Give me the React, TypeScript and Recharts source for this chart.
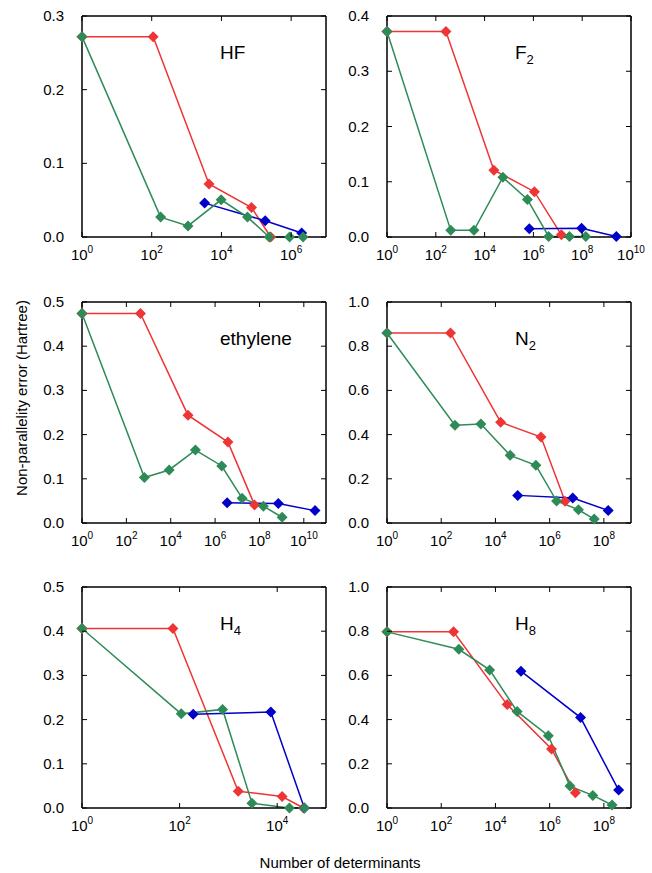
import { LineChart, Line, XAxis, YAxis } from "recharts";

type Pt = [number, number];

const RED = "#ee3535";
const GREEN = "#2e8b57";
const BLUE = "#0000c8";
const FONT = "'Liberation Sans', Arial, sans-serif";

// HF
const hfRed: Pt[] = [[1, 0.272], [110, 0.272], [4400, 0.072], [73000, 0.04], [260000, 0.0]];
const hfBlue: Pt[] = [[3300, 0.046], [180000, 0.022], [2000000, 0.0055]];
const hfGreen: Pt[] = [[1, 0.272], [180, 0.027], [1100, 0.015], [9800, 0.0505], [56000, 0.027], [235000, 0.0], [900000, 0.0], [2200000, 0.0]];

// F2
const f2Red: Pt[] = [[1, 0.372], [260, 0.372], [24000, 0.121], [1100000, 0.082], [14000000, 0.004]];
const f2Blue: Pt[] = [[680000, 0.015], [94000000, 0.016], [2500000000, 0.001]];
const f2Green: Pt[] = [[1, 0.372], [410, 0.012], [3650, 0.012], [56000, 0.108], [570000, 0.068], [4200000, 0.001], [30000000, 0.001], [140000000, 0.001]];

// ethylene
const ethRed: Pt[] = [[1, 0.474], [430, 0.474], [60000, 0.244], [3800000, 0.183], [60000000, 0.041]];
const ethBlue: Pt[] = [[3500000, 0.046], [710000000, 0.044], [32000000000, 0.028]];
const ethGreen: Pt[] = [[1, 0.474], [650, 0.103], [8500, 0.12], [130000, 0.165], [2000000, 0.129], [16500000, 0.056], [150000000, 0.038], [1050000000, 0.013]];

// N2
const n2Red: Pt[] = [[1, 0.86], [220, 0.86], [15500, 0.456], [480000, 0.389], [3700000, 0.098]];
const n2Blue: Pt[] = [[66000, 0.125], [7100000, 0.113], [144000000, 0.057]];
const n2Green: Pt[] = [[1, 0.86], [320, 0.442], [2900, 0.448], [35000, 0.306], [310000, 0.261], [1800000, 0.0995], [11500000, 0.06], [44000000, 0.018]];

// H4
const h4Red: Pt[] = [[1, 0.406], [73, 0.406], [1590, 0.038], [12600, 0.026], [34600, 0.0]];
const h4Blue: Pt[] = [[190, 0.212], [7400, 0.217], [36000, 0.0]];
const h4Green: Pt[] = [[1, 0.406], [108, 0.213], [760, 0.223], [3040, 0.011], [17800, 0.0], [36000, 0.0]];

// H8
const h8Red: Pt[] = [[1, 0.797], [285, 0.797], [27000, 0.468], [1170000, 0.267], [8900000, 0.069]];
const h8Blue: Pt[] = [[87000, 0.619], [13800000, 0.409], [350000000, 0.081]];
const h8Green: Pt[] = [[1, 0.797], [445, 0.718], [6100, 0.625], [63000, 0.437], [890000, 0.327], [5600000, 0.099], [39000000, 0.057], [200000000, 0.0135]];

const ticksTo = (maxExp: number) => {
  const t: number[] = [];
  for (let e = 0; e <= maxExp; e += 2) t.push(Math.pow(10, e));
  return t;
};

const panels = [
  { name: "HF", sub: "", left: 82, top: 16, xMax: 1e7, xTicks: ticksTo(6), yMax: 0.3, yTicks: [0, 0.1, 0.2, 0.3], red: hfRed, blue: hfBlue, green: hfGreen },
  { name: "F", sub: "2", left: 387, top: 16, xMax: 1e10, xTicks: ticksTo(10), yMax: 0.4, yTicks: [0, 0.1, 0.2, 0.3, 0.4], red: f2Red, blue: f2Blue, green: f2Green },
  { name: "ethylene", sub: "", left: 82, top: 302, xMax: 1e11, xTicks: ticksTo(10), yMax: 0.5, yTicks: [0, 0.1, 0.2, 0.3, 0.4, 0.5], red: ethRed, blue: ethBlue, green: ethGreen },
  { name: "N", sub: "2", left: 387, top: 302, xMax: 1e9, xTicks: ticksTo(8), yMax: 1.0, yTicks: [0, 0.2, 0.4, 0.6, 0.8, 1.0], red: n2Red, blue: n2Blue, green: n2Green },
  { name: "H", sub: "4", left: 82, top: 587, xMax: 1e5, xTicks: ticksTo(4), yMax: 0.5, yTicks: [0, 0.1, 0.2, 0.3, 0.4, 0.5], red: h4Red, blue: h4Blue, green: h4Green },
  { name: "H", sub: "8", left: 387, top: 587, xMax: 1e9, xTicks: ticksTo(8), yMax: 1.0, yTicks: [0, 0.2, 0.4, 0.6, 0.8, 1.0], red: h8Red, blue: h8Blue, green: h8Green },
];

const PW = 244;
const PH = 221;
const ML = 60;
const MT = 10;
const MR = 20;
const MB = 30;

const toRows = (pts: Pt[]) => pts.map(([x, y]) => ({ x, y }));

const Diamond = (color: string) => (props: any) => {
  const { cx, cy, index } = props;
  if (cx == null || cy == null) return <g key={`e-${index}`} />;
  const r = 5.5;
  return (
    <path
      key={`d-${index}`}
      d={`M${cx},${cy - r}L${cx + r},${cy}L${cx},${cy + r}L${cx - r},${cy}Z`}
      fill={color}
      stroke="none"
    />
  );
};

const XTick = (props: any) => {
  const { x, y, payload } = props;
  const exp = Math.round(Math.log10(payload.value));
  return (
    <g>
      <line x1={x} y1={y} x2={x} y2={y - 5} stroke="#000" />
      <text x={x} y={y + 23} textAnchor="middle" fontSize={15} fill="#000" fontFamily={FONT}>
        10<tspan dy={-7} fontSize={10}>{exp}</tspan>
      </text>
    </g>
  );
};

const TopTick = (props: any) => {
  const { x, y } = props;
  return <line x1={x} y1={y} x2={x} y2={y + 5} stroke="#000" />;
};

const YTick = (props: any) => {
  const { x, y, payload } = props;
  return (
    <g>
      <line x1={x} y1={y} x2={x + 5} y2={y} stroke="#000" />
      <text x={x - 18} y={y + 5} textAnchor="end" fontSize={15} fill="#000" fontFamily={FONT}>
        {Number(payload.value).toFixed(1)}
      </text>
    </g>
  );
};

const RightTick = (props: any) => {
  const { x, y } = props;
  return <line x1={x} y1={y} x2={x - 5} y2={y} stroke="#000" />;
};

const frame = { stroke: "#000", strokeWidth: 1.5 };

const Panel = ({ p }: { p: (typeof panels)[number] }) => {
  const series = [
    { key: "red", color: RED, pts: p.red },
    { key: "blue", color: BLUE, pts: p.blue },
    { key: "green", color: GREEN, pts: p.green },
  ];
  return (
    <div style={{ position: "absolute", left: p.left - ML, top: p.top - MT }}>
      <LineChart
        width={ML + PW + MR}
        height={MT + PH + MB}
        margin={{ top: MT - 1, right: MR - 1, bottom: 0, left: 0 }}
      >
        <XAxis
          xAxisId="b"
          dataKey="x"
          type="number"
          scale="log"
          domain={[1, p.xMax]}
          ticks={p.xTicks}
          interval={0}
          height={MB}
          tickSize={0}
          tickMargin={0}
          axisLine={frame}
          tick={<XTick />}
        />
        <XAxis
          xAxisId="t"
          orientation="top"
          dataKey="x"
          type="number"
          scale="log"
          domain={[1, p.xMax]}
          ticks={p.xTicks}
          interval={0}
          height={1}
          tickSize={0}
          tickMargin={0}
          axisLine={frame}
          tick={<TopTick />}
        />
        <YAxis
          yAxisId="l"
          type="number"
          domain={[0, p.yMax]}
          ticks={p.yTicks}
          interval={0}
          width={ML}
          tickSize={0}
          tickMargin={0}
          axisLine={frame}
          tick={<YTick />}
        />
        <YAxis
          yAxisId="r"
          orientation="right"
          type="number"
          domain={[0, p.yMax]}
          ticks={p.yTicks}
          interval={0}
          width={1}
          tickSize={0}
          tickMargin={0}
          axisLine={frame}
          tick={<RightTick />}
        />
        {/* invisible series so the mirror axes are bound to an item */}
        <Line
          xAxisId="t"
          yAxisId="r"
          data={toRows(p.green)}
          dataKey="y"
          stroke="none"
          dot={false}
          activeDot={false}
          legendType="none"
          isAnimationActive={false}
        />
        {series.map((s) => (
          <Line
            key={s.key}
            xAxisId="b"
            yAxisId="l"
            data={toRows(s.pts)}
            dataKey="y"
            stroke={s.color}
            strokeWidth={1.5}
            dot={Diamond(s.color)}
            activeDot={false}
            isAnimationActive={false}
          />
        ))}
      </LineChart>
    </div>
  );
};

const titleX = (left: number) => (left < 200 ? 220 : 515);
const titleBase = (top: number) => top + 43;

export default function App() {
  return (
    <div
      style={{
        position: "absolute",
        left: 0,
        top: 0,
        width: 652,
        height: 873,
        background: "#fff",
        fontFamily: FONT,
      }}
    >
      {panels.map((p, i) => (
        <Panel key={i} p={p} />
      ))}
      <svg
        width={652}
        height={873}
        style={{ position: "absolute", left: 0, top: 0, pointerEvents: "none" }}
      >
        {panels.map((p, i) => (
          <text
            key={i}
            x={titleX(p.left)}
            y={titleBase(p.top)}
            fontSize={19}
            fill="#000"
            fontFamily={FONT}
          >
            {p.name}
            {p.sub ? (
              <tspan dy={5} fontSize={13}>
                {p.sub}
              </tspan>
            ) : null}
          </text>
        ))}
        <text
          transform="translate(27,398) rotate(-90)"
          textAnchor="middle"
          fontSize={15}
          fill="#000"
          fontFamily={FONT}
        >
          Non-parallelity error (Hartree)
        </text>
        <text x={340} y={868} textAnchor="middle" fontSize={15} fill="#000" fontFamily={FONT}>
          Number of determinants
        </text>
      </svg>
    </div>
  );
}
